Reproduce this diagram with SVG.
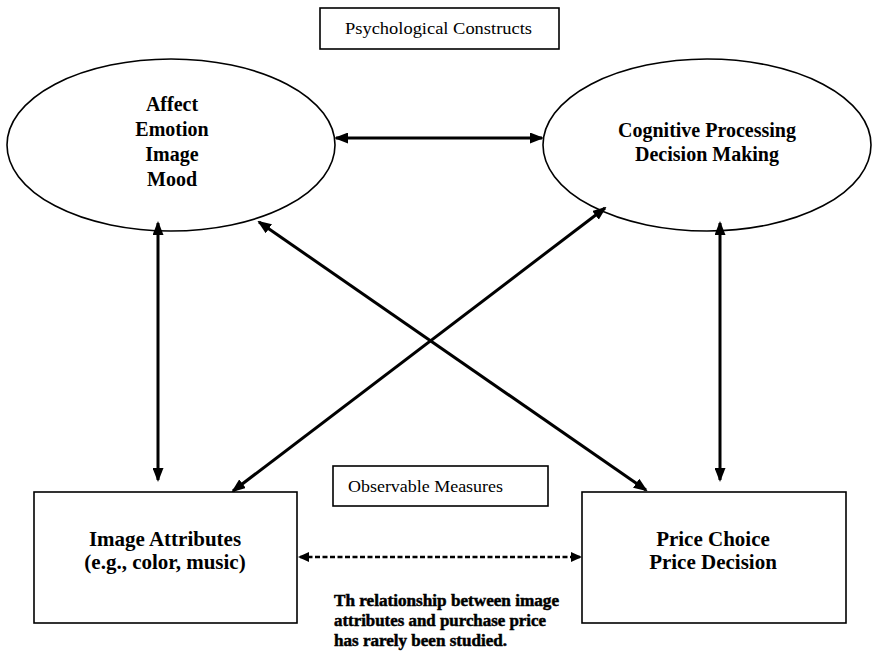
<svg xmlns="http://www.w3.org/2000/svg" width="872" height="655" viewBox="0 0 872 655">
  <style>
    .serif { font-family: "Liberation Serif", "Times New Roman", serif; fill: #000; }
    .label { font-size: 20px; font-weight: bold; text-anchor: middle; }
    .boxlabel { font-size: 21px; font-weight: bold; text-anchor: middle; }
    .caption { font-size: 16px; }
    .note { font-size: 17px; font-weight: bold; stroke: #000; stroke-width: 0.5; }
    .shape { fill: #fff; stroke: #000; stroke-width: 1.6; }
    .link { fill: none; stroke: #000; stroke-width: 3; }
    .dashed { fill: none; stroke: #000; stroke-width: 2.5; stroke-dasharray: 5 2.5; }
  </style>
  <defs>
    <marker id="head" viewBox="0 0 14 11" refX="12" refY="5.5" markerWidth="14" markerHeight="11" markerUnits="userSpaceOnUse" orient="auto-start-reverse">
      <path d="M0,0 L14,5.5 L0,11 z" fill="#000"/>
    </marker>
    <marker id="headSmall" viewBox="0 0 11 10" refX="9" refY="5" markerWidth="11" markerHeight="10" markerUnits="userSpaceOnUse" orient="auto-start-reverse">
      <path d="M0,0 L11,5 L0,10 z" fill="#000"/>
    </marker>
  </defs>

  <rect width="872" height="655" fill="#fff"/>

  <!-- section captions -->
  <g id="psych-caption">
    <rect class="shape" x="320" y="8" width="239" height="41" stroke-width="1.3"/>
    <text class="serif caption" x="345" y="34" textLength="187" lengthAdjust="spacingAndGlyphs">Psychological Constructs</text>
  </g>
  <g id="observable-caption">
    <rect class="shape" x="333" y="466" width="215" height="40" stroke-width="1.3"/>
    <text class="serif caption" x="348" y="492" textLength="155" lengthAdjust="spacingAndGlyphs">Observable Measures</text>
  </g>

  <!-- construct ellipses -->
  <g id="affect">
    <ellipse class="shape" cx="171" cy="145" rx="164" ry="86"/>
    <text class="serif label" x="172" y="111">Affect</text>
    <text class="serif label" x="172" y="136">Emotion</text>
    <text class="serif label" x="172" y="161">Image</text>
    <text class="serif label" x="172" y="186">Mood</text>
  </g>
  <g id="cognitive">
    <ellipse class="shape" cx="707" cy="145" rx="164" ry="86"/>
    <text class="serif label" x="707" y="137">Cognitive Processing</text>
    <text class="serif label" x="707" y="161">Decision Making</text>
  </g>

  <!-- observable boxes -->
  <g id="image-attributes">
    <rect class="shape" x="34" y="492" width="263" height="131"/>
    <text class="serif boxlabel" x="165" y="546">Image Attributes</text>
    <text class="serif boxlabel" x="165" y="569">(e.g., color, music)</text>
  </g>
  <g id="price-choice">
    <rect class="shape" x="582" y="492" width="264" height="131"/>
    <text class="serif boxlabel" x="713" y="546">Price Choice</text>
    <text class="serif boxlabel" x="713" y="569">Price Decision</text>
  </g>

  <!-- connectors -->
  <g id="connectors">
    <line class="link" x1="336" y1="138" x2="542" y2="138" marker-start="url(#head)" marker-end="url(#head)"/>
    <line class="link" x1="158" y1="223" x2="158" y2="480" marker-start="url(#head)" marker-end="url(#head)"/>
    <line class="link" x1="720" y1="223" x2="720" y2="480" marker-start="url(#head)" marker-end="url(#head)"/>
    <line class="link" x1="259" y1="222" x2="646" y2="490" marker-start="url(#head)" marker-end="url(#head)"/>
    <line class="link" x1="605" y1="208" x2="233" y2="491" marker-start="url(#head)" marker-end="url(#head)"/>
    <line class="dashed" x1="300" y1="557" x2="580" y2="557" marker-start="url(#headSmall)" marker-end="url(#headSmall)"/>
  </g>

  <!-- note under the dashed link -->
  <g id="note">
    <text class="serif note" x="334" y="606" textLength="225" lengthAdjust="spacingAndGlyphs">Th relationship between image</text>
    <text class="serif note" x="334" y="626" textLength="212" lengthAdjust="spacingAndGlyphs">attributes and purchase price</text>
    <text class="serif note" x="334" y="646" textLength="173" lengthAdjust="spacingAndGlyphs">has rarely been studied.</text>
  </g>
</svg>
